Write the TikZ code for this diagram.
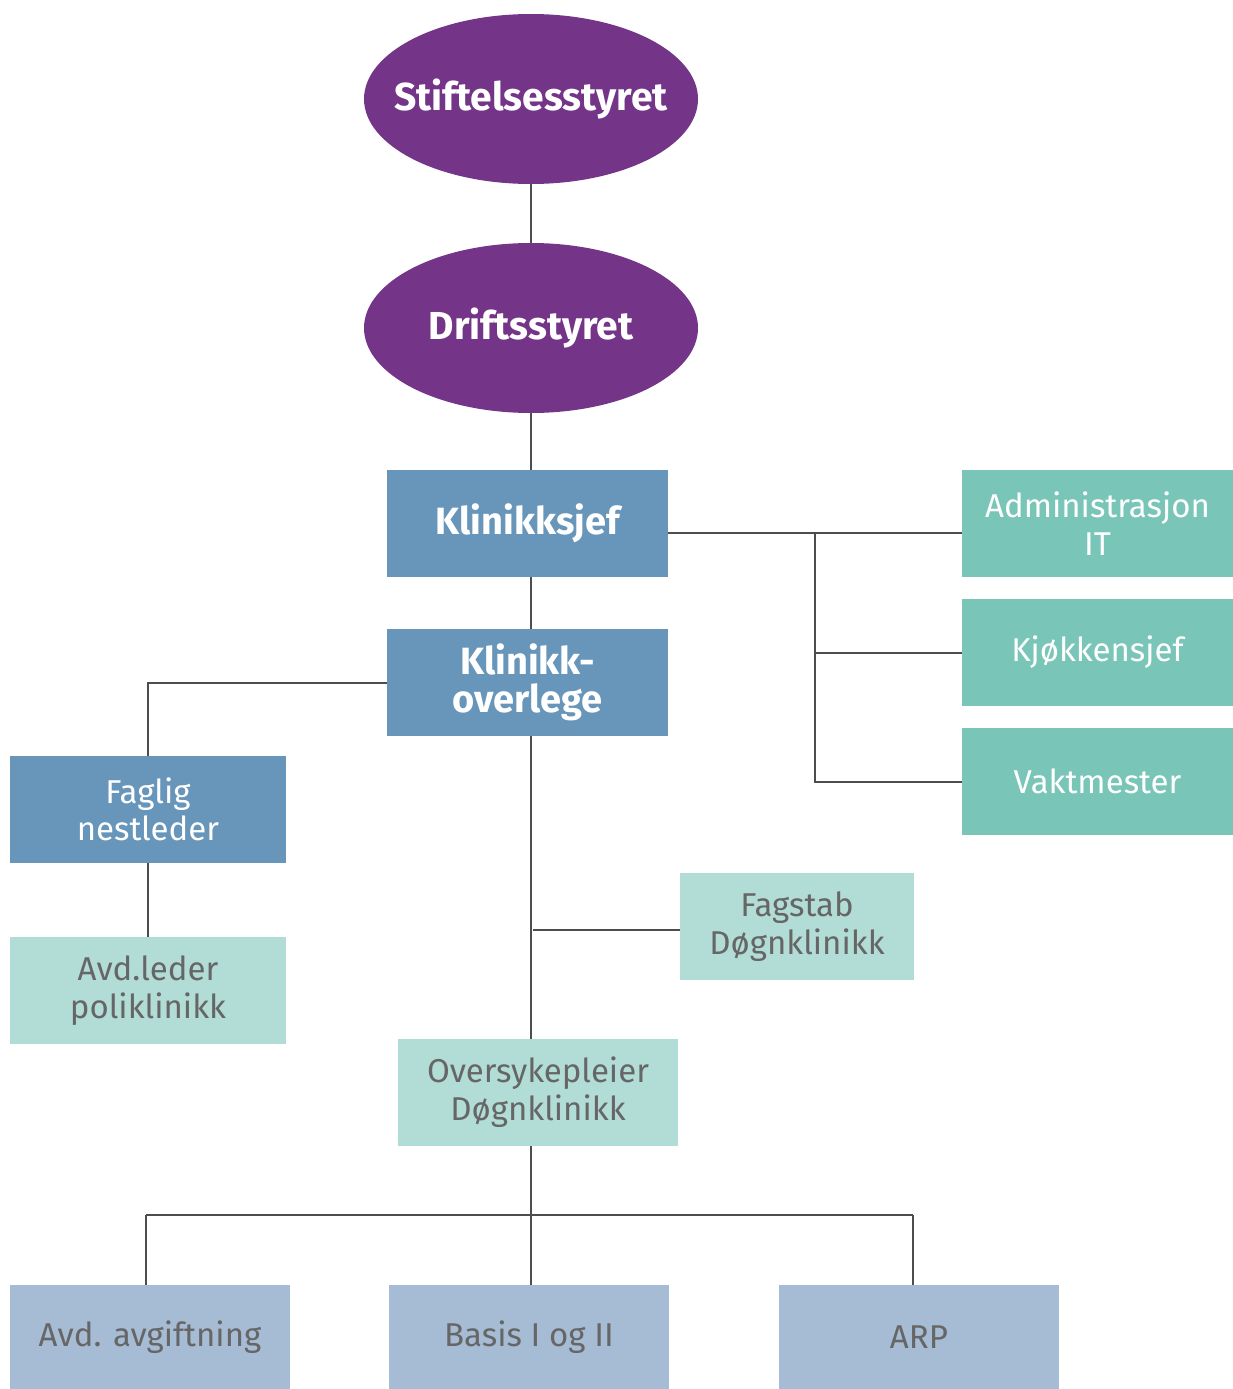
\documentclass[tikz,border=0pt]{standalone}
\usepackage{fontspec}
\setmainfont{Fira Sans}
\usetikzlibrary{shapes.geometric}
\definecolor{purp}{HTML}{743589}
\definecolor{bluebox}{HTML}{6896BA}
\definecolor{tealbox}{HTML}{79C6B8}
\definecolor{palebox}{HTML}{B2DCD6}
\definecolor{greyblue}{HTML}{A6BBD4}
\definecolor{linec}{HTML}{4D4D4D}
\definecolor{textgrey}{HTML}{666666}
\begin{document}
\begin{tikzpicture}[x=1pt,y=-1pt,
  oval/.style={ellipse,fill=purp,text=white,minimum width=334pt,minimum height=170pt,inner xsep=-30pt,inner ysep=0pt,font=\fontsize{39}{44}\selectfont\bfseries},
  darkbox/.style={rectangle,fill=bluebox,text=white,minimum width=281pt,minimum height=107pt,inner sep=0pt,align=center},
  tealb/.style={rectangle,fill=tealbox,text=white,minimum width=271pt,minimum height=107pt,inner sep=0pt,align=center,font=\fontsize{33}{38}\selectfont},
  paleb/.style={rectangle,fill=palebox,text=textgrey,minimum height=107pt,inner sep=0pt,align=center,font=\fontsize{33}{38}\selectfont},
  botb/.style={rectangle,fill=greyblue,text=textgrey,minimum width=280pt,minimum height=104pt,inner sep=0pt,align=center,font=\fontsize{33}{38}\selectfont},
  conn/.style={draw=linec,line width=2pt}]
\useasboundingbox (0,0) rectangle (1233,1389);
\node[oval] (E1) at (531,99) {Stiftelsesstyret};
\node[oval] (E2) at (531,328) {Driftsstyret};
\node[darkbox,font=\fontsize{38}{42}\selectfont\bfseries] (KS) at (527.5,523.5) {Klinikksjef};
\node[darkbox,font=\fontsize{38}{38}\selectfont\bfseries] (KO) at (527.5,682.5) {Klinikk-\\overlege};
\node[tealb] (AD) at (1097.5,523.5) {Administrasjon\\IT};
\node[tealb] (KJ) at (1097.5,652.5) {Kjøkkensjef};
\node[tealb] (VM) at (1097.5,781.5) {Vaktmester};
\node[darkbox,minimum width=276pt,font=\fontsize{33}{37}\selectfont] (FN) at (148,809.5) {Faglig\\nestleder};
\node[paleb,minimum width=276pt] (AL) at (148,990.5) {Avd.leder\\poliklinikk};
\node[paleb,minimum width=234pt] (FS) at (797,926.5) {Fagstab\\Døgnklinikk};
\node[paleb,minimum width=280pt] (OS) at (538,1092.5) {Oversykepleier\\Døgnklinikk};
\node[botb] (B1) at (150,1337) {Avd. avgiftning};
\node[botb] (B2) at (529,1337) {Basis I og II};
\node[botb] (B3) at (919,1337) {ARP};
\coordinate (rx) at (815,533);
\coordinate (tx) at (531,0);
\coordinate (lx) at (148,0);
\coordinate (fy) at (533,930);
\draw[conn] (E1.south) -- (E2.north);
\draw[conn] (E2.south) -- (E2.south |- KS.north);
\draw[conn] (tx |- KS.south) -- (tx |- KO.north);
\draw[conn] (KS.east |- rx) -- (AD.west |- rx);
\draw[conn] (rx) -- (rx |- VM.west) -- (VM.west);
\draw[conn] (rx |- KJ.west) -- (KJ.west);
\draw[conn] (KO.west) -- (lx |- KO.west) -- (FN.north);
\draw[conn] (FN.south) -- (AL.north);
\draw[conn] (tx |- KO.south) -- (tx |- OS.north);
\draw[conn] (fy) -- (FS.west |- fy);
\draw[conn] (tx |- OS.south) -- (tx |- B2.north);
\draw[conn] (146,1215) -- (913,1215);
\draw[conn] (146,1215) -- (146,1285);
\draw[conn] (913,1215) -- (913,1285);
\end{tikzpicture}
\end{document}
